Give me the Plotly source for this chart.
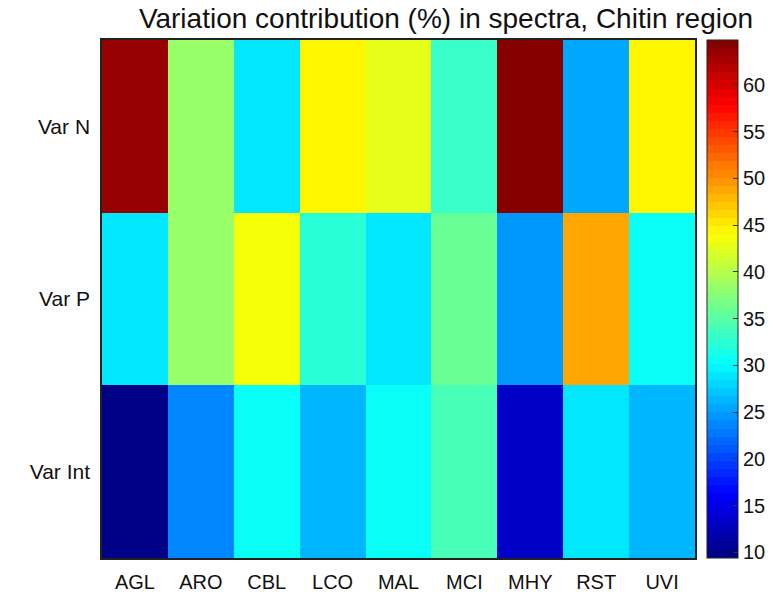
import numpy as np
import plotly.graph_objects as go

# Samples (columns) and variance components (rows)
samples = ["AGL", "ARO", "CBL", "LCO", "MAL", "MCI", "MHY", "RST", "UVI"]
components = ["Var N", "Var P", "Var Int"]

var_n = [63.8, 38.6, 28.5, 44.3, 42.4, 32.9, 64.8, 25.0, 44.6]
var_p = [28.5, 38.6, 43.2, 32.1, 29.3, 35.6, 24.2, 49.1, 31.0]
var_int = [9.6, 23.6, 31.0, 26.6, 31.0, 34.5, 13.1, 28.5, 26.6]

cbar_ticks = [10, 15, 20, 25, 30, 35, 40, 45, 50, 55, 60]
z_min, z_max = 9.4, 64.8

FONT = "Liberation Sans, Arial, sans-serif"


def jet(t):
    r = np.clip(1.5 - np.abs(4 * t - 3), 0, 1)
    g = np.clip(1.5 - np.abs(4 * t - 2), 0, 1)
    b = np.clip(1.5 - np.abs(4 * t - 1), 0, 1)
    return "rgb(%d,%d,%d)" % (round(r * 255), round(g * 255), round(b * 255))


# 64-level stepped jet colormap
n = 64
scale = []
for i in range(n):
    c = jet((i + 0.5) / n)
    scale.append([i / n, c])
    scale.append([(i + 1) / n, c])

z = [var_n, var_p, var_int]

W, H = 773, 596
ML, MR, MT, MB = 102, 78, 40, 38
plot_w = W - ML - MR

fig = go.Figure(go.Heatmap(
    z=z, x=samples, y=components,
    zmin=z_min, zmax=z_max,
    colorscale=scale,
    colorbar=dict(
        tickvals=cbar_ticks,
        ticks="inside", ticklen=5, tickcolor="#333",
        thickness=31, thicknessmode="pixels",
        len=1, lenmode="fraction",
        xpad=0, ypad=0,
        x=(707 - ML) / plot_w, xanchor="left",
        y=0.5, yanchor="middle",
        outlinecolor="#222", outlinewidth=1,
        tickfont=dict(family=FONT, size=20, color="#111"),
    ),
))

fig.update_xaxes(
    showline=True, mirror=True, linecolor="#222", linewidth=1.5,
    ticks="", ticklabelstandoff=5,
    tickfont=dict(family=FONT, size=20, color="#111"),
)
fig.update_yaxes(
    autorange="reversed",
    showline=True, mirror=True, linecolor="#222", linewidth=1.5,
    ticks="", ticklabelstandoff=6,
    tickfont=dict(family=FONT, size=21, color="#111"),
)

fig.update_layout(
    width=W, height=H,
    margin=dict(l=ML, r=MR, t=MT, b=MB, autoexpand=False),
    paper_bgcolor="white", plot_bgcolor="white",
    title=dict(
        text="Variation contribution (%) in spectra, Chitin region",
        x=446 / W, xanchor="center", y=1 - 18 / H, yanchor="middle",
        font=dict(family=FONT, size=28, color="#111"),
    ),
)

fig.write_html("out.html")
